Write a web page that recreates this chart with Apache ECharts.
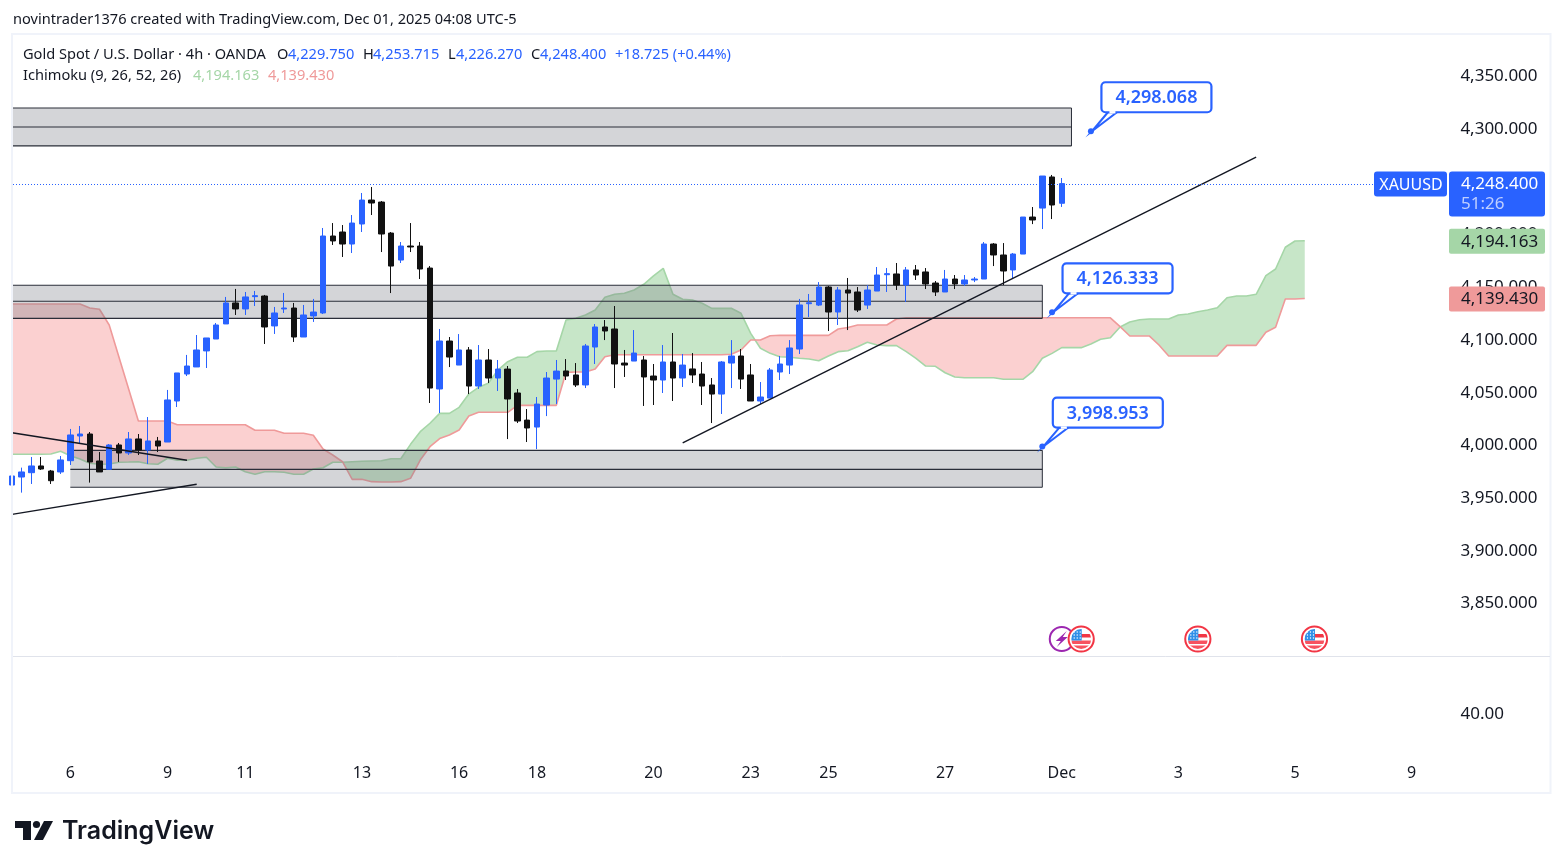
<!DOCTYPE html>
<html><head><meta charset="utf-8">
<style>html,body{margin:0;padding:0;background:#fff}#c{width:1563px;height:868px}</style>
<script src="https://cdn.jsdelivr.net/npm/echarts@6/dist/echarts.min.js"></script>
</head><body><div id="c"></div>
<script>
// candles, one per 4h bar, first entry is the partly hidden bar at the left edge
const opens=[3962.5,3970.1,3974.2,3980.6,3975.8,3974.9,
3985.6,4009,4010.9,3985.3,3977.4,4000.5,3992.9,4006.2,3995.7,4004.3,
4003.3,4042.2,4067.8,4074.5,4089.7,4101,4115.3,4135.2,4129.5,4141.2,
4141.8,4113.4,4129.5,4130.4,4102.9,4122.9,4125.7,4198.7,4202.5,4191.1,
4210.1,4232.8,4230.9,4201.5,4175.9,4189.2,4189.2,4168.3,4053.6,4099.1,
4076.3,4090.6,4056.4,4081.1,4064,4072.5,4049.8,4024.1,4017.5,4038.4,
4063,4070.7,4066.9,4057.4,4093.4,4112.4,4110.5,4078.2,4080.1,4081.1,
4065.9,4062.1,4079.2,4064,4072.6,4067.8,4057.4,4048.8,4078.2,4084.9,
4066.9,4042.2,4045,4069.7,4076.3,4091.5,4134.5,4133.2,4150.3,4126.6,
4147.5,4145.6,4133.2,4146.5,4162,4162.7,4152.2,4166.5,4164.6,4154.1,
4145.6,4157.9,4153.2,4157,4157.9,4191.1,4180.7,4166.5,4181.6,4216.7,
4225.2,4254.7,4229.75];
const closes=[3971.1,3974.9,3980.6,3977.7,3966.6,3986.3,
4010,4010.9,3984.4,3974.9,4000.5,3992.9,4006.2,3995.7,4004.3,3999.5,
4043.2,4068.8,4075.4,4090.6,4102,4114.3,4135.2,4129.5,4140.9,4142.1,
4112.4,4125.7,4130.4,4102.9,4123.8,4126.6,4198.7,4194,4191.1,4211,
4232.8,4230,4200.6,4170.2,4189.2,4188.3,4167.4,4054.5,4099.1,4083.9,
4090.6,4056.4,4081.1,4064,4072.5,4044.1,4023.2,4016.6,4039.3,4064,
4070.6,4065.9,4057.4,4094.4,4112.4,4108.6,4077.3,4076.3,4087.7,4065,
4062.1,4079.2,4064,4076.3,4066.9,4056.4,4048.8,4079.2,4084.9,4063,
4042.2,4046,4071.6,4077.3,4092.5,4133.3,4135.4,4150.3,4126.6,4147.5,
4144.6,4128.5,4147.5,4161.7,4163,4152.2,4166.5,4161.7,4153.2,4145.6,
4157.9,4153.2,4157,4157.9,4191.1,4180.7,4165.5,4181.6,4216.7,4213.9,
4255.6,4228.1,4248.4];
const lows=[3962.5,3955.3,3963.5,3976.8,3963.5,3973,
3981.5,4002.1,3964.8,3974.9,3977.4,3984.4,3991,3991,3982.5,3993.8,
4003.3,4036.5,4065.9,4074.5,4073.5,4101,4115.3,4123.8,4123.8,4132.3,
4096.3,4105.8,4125.7,4098.2,4102.9,4117.2,4124.7,4190.2,4178.8,4182.6,
4202.5,4218.6,4183.5,4144.6,4173.1,4183.5,4157.9,4040.3,4030.8,4074.4,
4076.3,4048.8,4053.6,4059.3,4051.7,4006.1,4021.3,4003.3,3996.6,4027.9,
4039.3,4062.1,4055.5,4054.5,4077.3,4100,4054.5,4065,4080.1,4037.5,
4038.4,4049.8,4042.2,4055.5,4059.3,4038.4,4021.3,4029.9,4054.5,4053.6,
4042.2,4039.4,4045,4062.1,4067.8,4086.8,4121.9,4132.3,4108.6,4114.3,
4109.5,4126.6,4129.5,4146.5,4145.6,4147.5,4136.1,4157,4148.4,4141.8,
4145.6,4148.4,4151.3,4155,4157.9,4170.2,4152.2,4157.9,4181.6,4210,
4205.3,4214.8,4226.27];
const highs=[3971.1,3979,3989.1,3989.1,3976.8,3990,
4015.7,4018.5,4012.8,3993.8,4001.4,4002.4,4012.8,4010.9,4027,4008.1,
4052.7,4068.8,4085.9,4104.8,4102,4116.2,4140.9,4148.5,4145.6,4146.6,
4142.8,4131.4,4144.7,4135.2,4133.3,4139,4206.3,4211,4209.1,4218.6,
4239.5,4245.2,4231.9,4202.5,4193,4211,4193,4170.2,4110.5,4102.9,
4105.7,4093.4,4095.3,4091.5,4081.1,4075.4,4053.6,4034.6,4046,4069.7,
4081.1,4082,4078.2,4096.3,4115.2,4119,4132.3,4090.6,4109.5,4084.9,
4077.3,4095.3,4106.7,4086.8,4087.7,4079.2,4064,4080.1,4100,4091.5,
4077.3,4060.2,4073.5,4084.9,4100,4139,4143.7,4155,4151.3,4150.3,
4158.9,4150.3,4152.2,4169.3,4168.3,4173.1,4169.3,4171.2,4168.3,4156,
4166.5,4161.7,4161.7,4159.8,4193,4192,4192,4182.6,4216.7,4226.2,
4255.6,4256.6,4253.715];
// Ichimoku leading spans, running 25 bars past the last candle
const spanA=[3991.7,3991.7,3991.7,3991.7,3991.9,3994.5,
3990.3,3987.2,3983.1,3982.2,3982.5,3984.1,3984.3,3984.6,3982.7,3982.2,
3987.9,3986,3986,3987.9,3988.8,3979.6,3978.9,3979.6,3975.1,3972.7,
3975.1,3975.1,3974.6,3972.7,3972.7,3977.7,3978.9,3984.1,3984.1,3984.6,
3985,3985.3,3985.6,3987.5,3987.5,4001.1,4013.1,4021.1,4030.5,4030.5,
4036.2,4048.8,4055.2,4059,4071.6,4079.5,4083.7,4083.7,4089,4089.6,
4089.6,4119,4120.6,4123.8,4128.5,4140.6,4143.4,4144.4,4147.5,4152.9,
4160.8,4168,4143.4,4138.7,4138,4134.9,4130.1,4130.1,4130.1,4125.4,
4106.4,4092.2,4087.4,4084.2,4083.7,4082.7,4082,4080.4,4084.9,4089,
4089.9,4093.7,4097.9,4095.3,4094.7,4094.7,4089,4082.7,4075.4,4075.1,
4069,4065,4064.3,4064.3,4064.3,4064.3,4062.8,4062.8,4062.8,4070,
4082.7,4087.4,4092.8,4092.8,4092.8,4096.3,4100.7,4102.2,4112.4,4117.1,
4119.2,4120,4120,4120,4123.8,4124.7,4126.9,4128.5,4130.7,4140.2,
4141.8,4141.8,4143.4,4161.1,4167.4,4188,4194,4194.163];
const spanB=[4134.2,4134.2,4134.2,4134.2,4134.2,4134.2,
4134.2,4134.2,4130.4,4129.2,4114.3,4083.9,4053.6,4023.2,4023.2,4023.2,
4023.2,4019.7,4019.7,4019.7,4019.7,4019.7,4019.7,4019.7,4019.7,4014.4,
4014.4,4014.4,4011.6,4011.6,4011.6,4009.7,3996.7,3991,3984.6,3967.9,
3967.9,3965.7,3965.4,3965.4,3965.7,3968.9,3986.2,3998.9,4006.6,4010,
4014.7,4028,4031.5,4031.5,4031.5,4031.5,4038.1,4038.1,4038.1,4038.1,
4038.1,4069.4,4069.7,4069.7,4072.6,4084.2,4086.1,4086.1,4086.1,4086.1,
4086.1,4086.1,4086.1,4086.1,4086.1,4086.1,4086.1,4086.1,4086.5,4090.6,
4100.1,4100.1,4104.1,4104.5,4104.5,4104.5,4104.5,4104.5,4104.5,4110.5,
4111.9,4114.3,4114.3,4114.3,4114.3,4120,4121.1,4121.1,4121.1,4121.1,
4121.1,4121.1,4121.1,4121.1,4121.1,4121.1,4121.1,4121.1,4121.1,4121.1,
4121.1,4121.1,4121.1,4121.1,4121.1,4121.1,4121.1,4121.1,4112.7,4103.9,
4103.9,4103.9,4095.3,4084.9,4084.9,4084.9,4084.9,4084.9,4084.9,4095,
4095,4095,4095,4107.4,4112.1,4139,4139,4139.43];
// x axis: bar slot -> label
const tickSlots=[6,16,24,36,46,54,66,76,84,96,108,120,132,144];
const tickTexts=['6','9','11','13','16','18','20','23','25','27','Dec','3','5','9'];
const slotCount=149;
const priceTicksHidden=[3800,4400];
const lowerPaneLabel=40;
// drawn zones: [first slot, last slot, top, middle, bottom]
const zones=[[-2,109,4320.1,4302.1,4284.1],[-2,106,4152,4136.8,4120.6],[6,106,3995.4,3977.4,3960.4]];
// drawn trend lines: [slot, price] pairs
const trendMain=[[69,4002.4],[128,4273.6]];
const trendDown=[[0,4012.1],[18,3986]];
const trendUp=[[0,3934.7],[19,3963.2]];
// price callouts: [slot, price]
const callouts=[[111,4298.068],[107,4126.333],[106,3998.953]];
// event icons on the time axis: [slot, kind]
const events=[[108,0],[110,1],[122,1],[134,1]];
const lastPrice=4248.4, countdown='51:26', symbol='XAUUSD';
const ichiA=4194.163, ichiB=4139.43;

const FONT='"Noto Sans"', BLUE='#2962ff', DARK='#131722';
const fmt=v=>v.toLocaleString('en-US',{minimumFractionDigits:3,maximumFractionDigits:3});
const categories=Array.from({length:slotCount},(_,i)=>{const j=tickSlots.indexOf(i);return j<0?'':tickTexts[j];});
const candleData=opens.map((o,i)=>[o,closes[i],lows[i],highs[i]]);

function cloudItem(p,api){
  const G='rgba(165,214,167,0.62)',R='rgba(239,83,80,0.27)';
  const A=spanA.map((v,i)=>api.coord([i,v])),B=spanB.map((v,i)=>api.coord([i,v]));
  const kids=[];
  let top=[A[0]],bot=[B[0]],sign=B[0][1]-A[0][1]>=0?1:-1;
  const flush=()=>kids.push({type:'polygon',shape:{points:top.concat(bot.slice().reverse())},style:{fill:sign>0?G:R}});
  for(let i=1;i<A.length;i++){
    const d0=B[i-1][1]-A[i-1][1],d1=B[i][1]-A[i][1];
    const s=d1>=0?1:-1;
    if(s!==sign){
      const t=d0/(d0-d1),m=[A[i-1][0]+(A[i][0]-A[i-1][0])*t,A[i-1][1]+(A[i][1]-A[i-1][1])*t];
      top.push(m);bot.push(m);flush();
      top=[m];bot=[m];sign=s;
    }
    top.push(A[i]);bot.push(B[i]);
  }
  flush();
  return {type:'group',children:kids};
}
function zoneItem(p,api){
  const x0=api.coord([api.value(0),api.value(2)]),x1=api.coord([api.value(1),api.value(4)]);
  const mid=api.coord([0,api.value(3)])[1];
  const ln={stroke:'#2a2e39',lineWidth:1.2};
  const s={x:x0[0],y:x0[1],width:x1[0]-x0[0],height:x1[1]-x0[1]};
  return {type:'group',children:[
    {type:'rect',shape:s,style:{fill:'rgba(120,123,134,0.32)'}},
    {type:'line',shape:{x1:x0[0],y1:x0[1],x2:x1[0],y2:x0[1]},style:ln},
    {type:'line',shape:{x1:x0[0],y1:mid,x2:x1[0],y2:mid},style:ln},
    {type:'line',shape:{x1:x0[0],y1:x1[1],x2:x1[0],y2:x1[1]},style:ln},
    {type:'line',shape:{x1:x1[0],y1:x0[1],x2:x1[0],y2:x1[1]},style:{stroke:'#2a2e39',lineWidth:1}}
  ]};
}
function calloutItem(p,api){
  const c=api.coord([api.value(0),api.value(1)]),x=c[0],y=c[1];
  const bx=x+10.5,by=y-49,w=110,h=30;
  return {type:'group',children:[
    {type:'polygon',shape:{points:[[x+17,by+h],[x+1,y],[x+26,by+h]]},style:{fill:'#fff',stroke:BLUE,lineWidth:2}},
    {type:'rect',shape:{x:bx,y:by,width:w,height:h,r:4},style:{fill:'#fff',stroke:BLUE,lineWidth:2.2}},
    {type:'line',shape:{x1:x+18.5,y1:by+h,x2:x+24.5,y2:by+h},style:{stroke:'#fff',lineWidth:2.4}},
    {type:'circle',shape:{cx:x,cy:y,r:3},style:{fill:BLUE}},
    {type:'text',style:{x:bx+w/2,y:by+h/2+1,text:fmt(api.value(1)),fill:BLUE,font:'600 18px '+FONT,align:'center',verticalAlign:'middle'}}
  ]};
}
function eventItem(p,api){
  const x=api.coord([api.value(0),4000])[0],y=639,kind=api.value(1);
  if(kind===0){return {type:'group',children:[
    {type:'circle',shape:{cx:x,cy:y,r:12},style:{fill:'#fff',stroke:'#9c27b0',lineWidth:2}},
    {type:'polygon',shape:{points:[[x+5,y-8],[x-6,y+2],[x-1,y+2],[x-5,y+8],[x+6,y-2],[x+1,y-2]]},style:{fill:'#9c27b0'}}
  ]};}
  const clip=()=>({type:'circle',shape:{cx:x,cy:y,r:10}});
  const rc=(rx,ry,w,h,c)=>({type:'rect',shape:{x:x+rx,y:y+ry,width:w,height:h},style:{fill:c},clipPath:clip()});
  const kids=[{type:'circle',shape:{cx:x,cy:y,r:12.6},style:{fill:'#fff',stroke:'#f23645',lineWidth:2}},
    rc(0,-5,11,3.4,'#f23645'),rc(-10,1.6,21,3.4,'#f7525f'),rc(-10,6.5,21,4,'#f7525f'),rc(-10,-10,10.5,11.5,'#2f8fe8')];
  [-7,-4,-1].forEach(dx=>[-7,-4,-1].forEach(dy=>kids.push({type:'circle',shape:{cx:x+dx,cy:y+dy,r:0.7},style:{fill:'#fff'}})));
  return {type:'group',children:kids};
}
function tagsItem(p,api){
  const y=api.coord([0,lastPrice])[1],ya=api.coord([0,ichiA])[1],yb=api.coord([0,ichiB])[1];
  const T=(x,yy,t,c,o,s)=>({type:'text',style:Object.assign({x:x,y:yy,text:t,fill:c,font:(s||17)+'px '+FONT,verticalAlign:'middle'},o||{})});
  const py=Math.round(y)+.5;
  return {type:'group',children:[
    {type:'line',shape:{x1:13,y1:py,x2:1374,y2:py},style:{stroke:BLUE,lineWidth:1,lineDash:[1,2]}},
    {type:'rect',shape:{x:1374,y:y-12,width:73,height:25,r:3},style:{fill:BLUE}},
    T(1411,y+1.5,symbol,'#fff',{align:'center'},16),
    {type:'rect',shape:{x:1449,y:y-12,width:96,height:45,r:3},style:{fill:BLUE}},
    T(1461,y+1,fmt(lastPrice),'#fff'),
    T(1461,y+21,countdown,'#bfcfff'),
    {type:'rect',shape:{x:1449,y:ya-12,width:96,height:25,r:2},style:{fill:'#a5d6a7'}},
    T(1461,ya+1,fmt(ichiA),DARK),
    {type:'rect',shape:{x:1449,y:yb-12,width:96,height:25,r:2},style:{fill:'#ef9a9a'}},
    T(1461,yb+1,fmt(ichiB),DARK)
  ]};
}
const trendSeries=d=>({type:'line',data:d,symbol:'none',z:6,lineStyle:{color:DARK,width:1.4},silent:true,animation:false});
const hdr=(x,y,t,c,s)=>({type:'text',x:x,y:y,style:{text:t,fill:c||DARK,font:(s||14.6)+'px '+FONT,verticalAlign:'middle'}});

const option={
  animation:false,backgroundColor:'#fff',
  grid:[{left:12,top:23.78,width:1438.56,height:632.58},{left:12,top:657,width:1438.56,height:114}],
  xAxis:[
    {type:'category',gridIndex:0,data:categories,boundaryGap:false,axisLine:{show:false},axisTick:{show:false},axisLabel:{show:false},splitLine:{show:false}},
    {type:'category',gridIndex:1,data:categories,boundaryGap:false,axisLine:{show:false},axisTick:{show:false},splitLine:{show:false},
     axisLabel:{show:true,interval:0,color:DARK,fontFamily:FONT,fontSize:16,margin:2,verticalAlign:'middle'}}
  ],
  yAxis:[
    {type:'value',gridIndex:0,position:'right',min:3800,max:4400,interval:50,axisLine:{show:false},axisTick:{show:false},splitLine:{show:false},
     axisLabel:{color:DARK,fontFamily:FONT,fontSize:17,align:'right',margin:87,padding:[2,0,0,0],formatter:v=>priceTicksHidden.includes(v)?'':fmt(v)}},
    {type:'value',gridIndex:1,position:'right',min:0,max:lowerPaneLabel*2,interval:lowerPaneLabel,axisLine:{show:false},axisTick:{show:false},splitLine:{show:false},
     axisLabel:{color:DARK,fontFamily:FONT,fontSize:17,align:'left',margin:10,padding:[2,0,0,0],formatter:v=>v===lowerPaneLabel?v.toFixed(2):''}}
  ],
  series:[
    {type:'custom',name:'cloud',renderItem:cloudItem,data:[[0,spanA[0]]],encode:{x:0,y:1},z:2,clip:true,silent:true},
    {type:'line',name:'spanA',data:spanA,symbol:'none',z:3,lineStyle:{color:'#a5d6a7',width:1.6},silent:true},
    {type:'line',name:'spanB',data:spanB,symbol:'none',z:3,lineStyle:{color:'#ef9a9a',width:1.6},silent:true},
    {type:'custom',name:'zones',renderItem:zoneItem,data:zones,encode:{x:[0,1],y:[2,3,4]},z:4,clip:true,silent:true},
    {type:'candlestick',name:'XAUUSD',data:candleData,barWidth:6,z:5,clip:true,silent:true,
     itemStyle:{color:BLUE,color0:'#111111',borderColor:BLUE,borderColor0:'#111111',borderWidth:1}},
    trendSeries(trendMain),trendSeries(trendDown),trendSeries(trendUp),
    {type:'custom',name:'callouts',renderItem:calloutItem,data:callouts,encode:{x:0,y:1},z:8,silent:true},
    {type:'custom',name:'events',renderItem:eventItem,data:events,encode:{x:0},z:8,silent:true},
    {type:'custom',name:'tags',renderItem:tagsItem,data:[[0,lastPrice]],encode:{x:0,y:1},z:9,silent:true}
  ],
  graphic:[
    {type:'rect',z:100,shape:{x:12,y:34,width:1538.5,height:759},style:{fill:'none',stroke:'#f0f3fa',lineWidth:2},silent:true},
    {type:'line',z:100,shape:{x1:13,y1:656.5,x2:1550,y2:656.5},style:{stroke:'#e0e3eb',lineWidth:1},silent:true},
    hdr(13,20,'novintrader1376 created with TradingView.com, Dec 01, 2025 04:08 UTC-5'),
    hdr(23,55,'Gold Spot / U.S. Dollar · 4h · OANDA'),
    hdr(277,55,'O'),hdr(288,55,'4,229.750',BLUE),
    hdr(363,55,'H'),hdr(373,55,'4,253.715',BLUE),
    hdr(448,55,'L'),hdr(456,55,'4,226.270',BLUE),
    hdr(531,55,'C'),hdr(540,55,'4,248.400',BLUE),
    hdr(615,55,'+18.725 (+0.44%)',BLUE),
    hdr(23,76,'Ichimoku (9, 26, 52, 26)'),
    hdr(193,76,'4,194.163','#a5d6a7'),hdr(268,76,'4,139.430','#ef9a9a'),
    {type:'polygon',shape:{points:[[15,821],[31,821],[31,840],[23,840],[23,828],[15,828]]},style:{fill:'#131722'}},
    {type:'circle',shape:{cx:36.5,cy:824.5,r:3.6},style:{fill:'#131722'}},
    {type:'polygon',shape:{points:[[44,821],[53,821],[43,840],[34,840]]},style:{fill:'#131722'}},
    {type:'text',x:62,y:831,style:{text:'TradingView',fill:'#131722',font:'600 25px Inter',verticalAlign:'middle'}}
  ]
};
echarts.init(document.getElementById('c'),null,{renderer:'canvas'}).setOption(option);
</script></body></html>
